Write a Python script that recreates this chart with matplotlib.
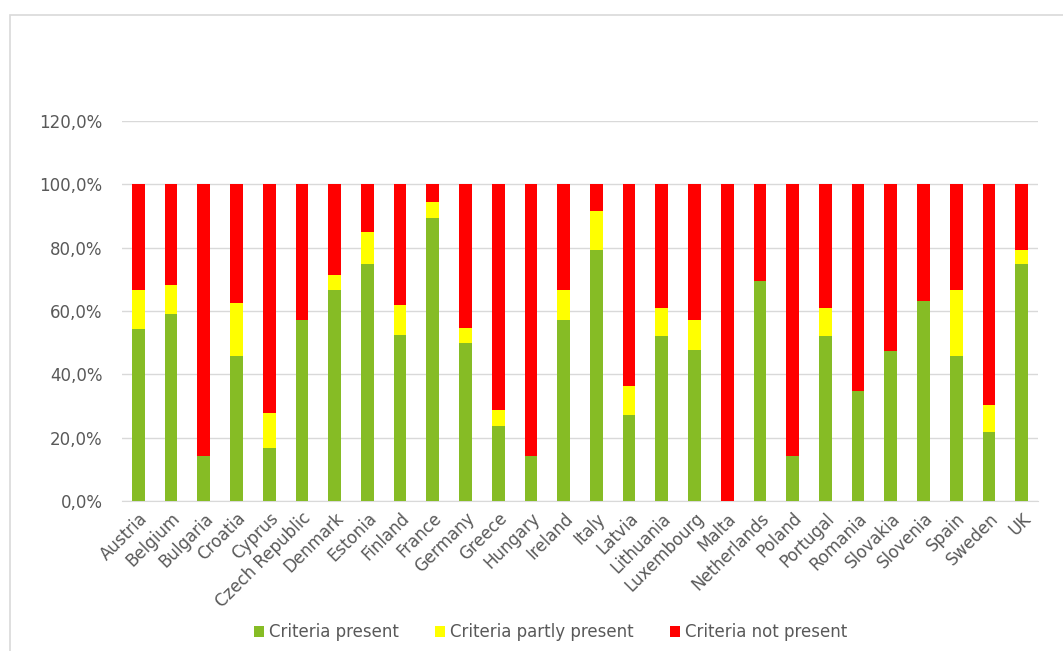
import matplotlib
matplotlib.use('Agg')
import matplotlib.pyplot as plt
import numpy as np
from matplotlib.patches import Rectangle
from matplotlib.ticker import FuncFormatter

# --- DATA ---
countries = ['Austria', 'Belgium', 'Bulgaria', 'Croatia', 'Cyprus', 'Czech Republic',
             'Denmark', 'Estonia', 'Finland', 'France', 'Germany', 'Greece', 'Hungary',
             'Ireland', 'Italy', 'Latvia', 'Lithuania', 'Luxembourg', 'Malta',
             'Netherlands', 'Poland', 'Portugal', 'Romania', 'Slovakia', 'Slovenia',
             'Spain', 'Sweden', 'UK']
present = [54.2, 59.1, 14.3, 45.8, 16.7, 57.1, 66.7, 75.0, 52.4, 89.5,
           50.0, 23.8, 14.3, 57.1, 79.2, 27.3, 52.2, 47.6, 0.0, 69.6,
           14.3, 52.2, 34.8, 47.4, 63.2, 45.8, 21.7, 75.0]
partly = [12.5, 9.1, 0.0, 16.7, 11.1, 0.0, 4.8, 10.0, 9.5, 5.0,
          4.5, 4.8, 0.0, 9.5, 12.5, 9.1, 8.7, 9.5, 0.0, 0.0,
          0.0, 8.7, 0.0, 0.0, 0.0, 20.8, 8.7, 4.2]
not_present = [100 - p - q for p, q in zip(present, partly)]

labels = ['Criteria present', 'Criteria partly present', 'Criteria not present']
colors = ['#86BC25', '#FFFF00', '#FF0000']

# --- FIGURE ---
fig = plt.figure(figsize=(10.63, 6.51), dpi=100)
ax = fig.add_axes([0.1148, 0.2304, 0.8617, 0.5837])

x = np.arange(len(countries))
w = 0.39
ax.bar(x, present, w, color=colors[0], label=labels[0], zorder=3)
ax.bar(x, partly, w, bottom=present, color=colors[1], label=labels[1], zorder=3)
bottom2 = [p + q for p, q in zip(present, partly)]
ax.bar(x, not_present, w, bottom=bottom2, color=colors[2], label=labels[2], zorder=3)

ax.set_xlim(-0.5, len(countries) - 0.5)
ax.set_ylim(0, 120)
ax.set_yticks(np.arange(0, 121, 20))
ax.yaxis.set_major_formatter(FuncFormatter(lambda v, _: f'{v:.1f}%'.replace('.', ',')))
ax.grid(axis='y', color='#d9d9d9', linewidth=1, zorder=0)

for s in ['top', 'right', 'left']:
    ax.spines[s].set_visible(False)
ax.spines['bottom'].set_color('#d9d9d9')

ax.set_xticks(x)
ax.set_xticklabels(countries, rotation=45, ha='right', rotation_mode='anchor')
ax.tick_params(axis='both', length=0, colors='#595959', labelsize=12)
ax.tick_params(axis='x', pad=6)
ax.tick_params(axis='y', pad=14)

fig.legend(loc='center', bbox_to_anchor=(0.518, 0.029), ncol=3, frameon=False,
           fontsize=12, labelcolor='#595959', handlelength=0.6, handleheight=0.6,
           handletextpad=0.3, columnspacing=2.2)

# chart area border
fig.patches.append(Rectangle((10 / 1063, -0.1), 1.2, 1 - 15 / 651 + 0.1,
                             transform=fig.transFigure, fill=False,
                             edgecolor='#d9d9d9', linewidth=1.2))

fig.savefig('out.png', dpi=100)
